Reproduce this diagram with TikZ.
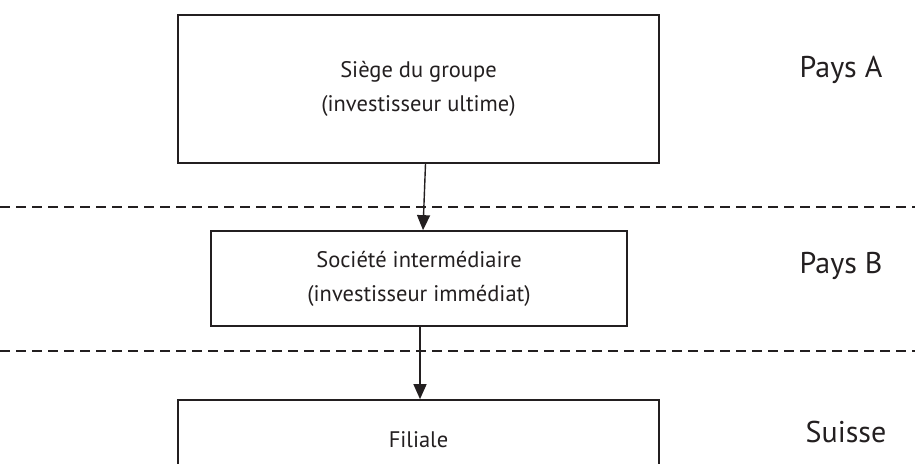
\documentclass[tikz,border=0pt]{standalone}
\usepackage{fontspec}
\setmainfont{PT Sans}
\usetikzlibrary{arrows.meta,positioning}
\definecolor{encre}{HTML}{231F20}
\begin{document}
\begin{tikzpicture}[
        x=1pt, y=-1pt, % un point par pixel, axe y vers le bas
        boite/.style={draw=encre, line width=1.7pt, align=center, text=encre, inner sep=0pt,
            font=\fontsize{22.5}{34}\selectfont}, % Style des cases
        pays/.style={text=encre, font=\fontsize{30}{32}\selectfont},
        frontiere/.style={draw=encre, line width=1.3pt, dash pattern=on 10pt off 6pt},
        fleche/.style={draw=encre, line width=1.4pt, -{Triangle[width=13pt,length=15pt]}},
    ]
    \useasboundingbox (0,0) rectangle (915,463);
    \clip (0,0) rectangle (915,463);

    % cases
    \node[boite, minimum width=481pt, minimum height=148pt] (siege) at (418.5,89) {Siège du groupe\\(investisseur ultime)};
    \node[boite, minimum width=416pt, minimum height=95pt] (inter) at (419,278.5) {Société intermédiaire\\(investisseur immédiat)};
    \node[boite, minimum width=481pt, minimum height=80pt] (filiale) at (418.5,440) {Filiale};

    % pays
    \node[pays] (paysA) at (841,70) {Pays A};
    \node[pays] (paysB) at (841,266) {Pays B};
    \node[pays] (suisse) at (846,432) {Suisse};

    % limites entre pays
    \coordinate (g1) at (0,207);
    \coordinate (d1) at (915,207);
    \coordinate (g2) at (0,351);
    \coordinate (d2) at (915,351);
    \draw[frontiere] (g1) -- (d1);
    \draw[frontiere] (g2) -- (d2);

    % participations
    \draw[fleche] ([xshift=7pt]siege.south) -- ([xshift=4pt]inter.north);
    \draw[fleche] ([xshift=1pt]inter.south) -- ([xshift=1.5pt]filiale.north);
\end{tikzpicture}
\end{document}
